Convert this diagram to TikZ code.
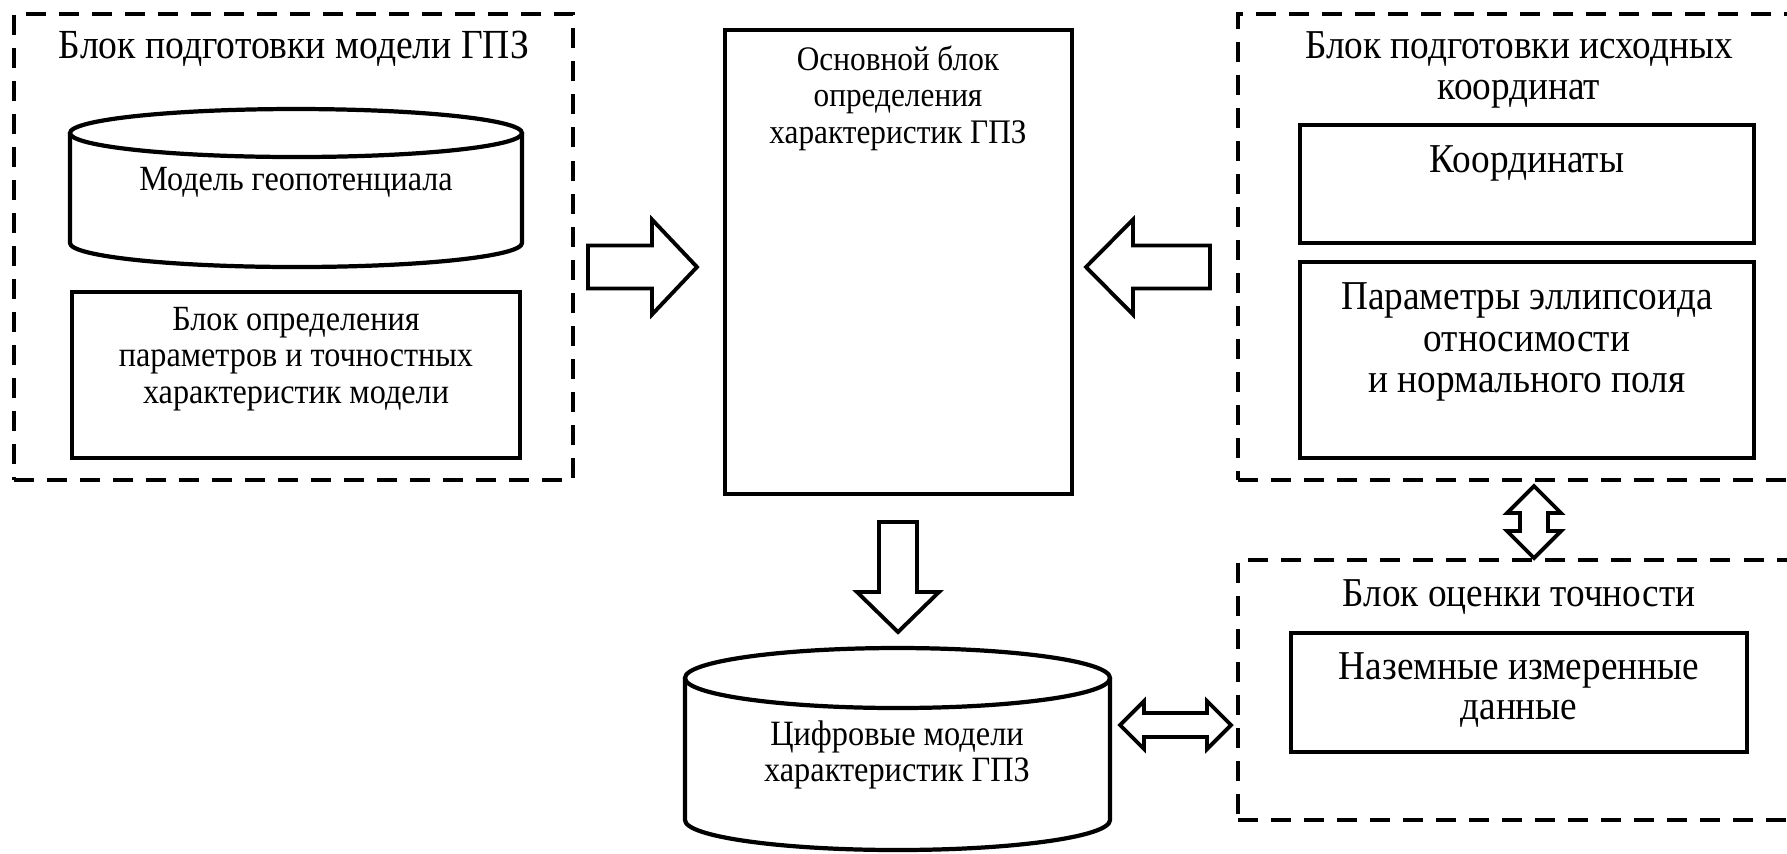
\documentclass[tikz,border=0pt]{standalone}
\usepackage{fontspec}
\setmainfont{Liberation Serif}
\usetikzlibrary{fit,calc}
\begin{document}
\begin{tikzpicture}[x=0.01cm, y=-0.01cm,
  every node/.style={inner sep=0pt, outer sep=0pt},
  solidbox/.style={draw, line width=1.2pt},
  dashbox/.style={draw, line width=1.15pt, dash pattern=on 0.2cm off 0.13cm},
  blockarrow/.style={draw, line width=1.1pt, line join=miter, fill=white},
  tall/.style={align=center, yscale=1.1},
  bigtxt/.style={tall, font=\fontsize{10.6}{10.4}\selectfont},
  midtxt/.style={tall, font=\fontsize{9.15}{9.5}\selectfont},
  smalltxt/.style={tall, font=\fontsize{9}{9.4}\selectfont},
]
\useasboundingbox (0,0) rectangle (1787,853);
\clip (0,0) rectangle (1787,853);

% ---- model preparation block
\node[dashbox, fit={(14,14)(573,480)}] (prep) {};
\node[bigtxt, font=\fontsize{10.7}{10.4}\selectfont] (prepT) at (294,49) {Блок подготовки модели ГПЗ};
\draw[solidbox] (70,133) -- (70,243) arc[start angle=180, end angle=0, x radius=226, y radius=24] -- (522,133);
\draw[solidbox] (296,133) ellipse[x radius=226, y radius=24];
\node[midtxt] (geo) at (296,182) {Модель геопотенциала};
\node[solidbox, fit={(72,292)(520,458)}] (param) {};
\node[midtxt] (paramT) at (296,359) {Блок определения\\параметров и точностных\\характеристик модели};

% ---- main block
\node[solidbox, fit={(725,30)(1072,494)}] (main) {};
\node[smalltxt, font=\fontsize{8.9}{9.4}\selectfont] (mainT) at (898,98) {Основной блок\\определения\\характеристик ГПЗ};

% ---- source coordinates block
\node[dashbox, fit={(1238,14)(1800,480)}] (coordprep) {};
\node[bigtxt] (coordprepT) at (1519,70) {Блок подготовки исходных\\координат};
\node[solidbox, fit={(1300,125)(1754,243)}] (coords) {};
\node[bigtxt] (coordsT) at (1527,163) {Координаты};
\node[solidbox, fit={(1300,262)(1754,458)}] (ellip) {};
\node[bigtxt, font=\fontsize{10.6}{10.8}\selectfont] (ellipT) at (1527,342) {Параметры эллипсоида\\относимости\\и нормального поля};

% ---- accuracy block
\node[dashbox, fit={(1238,560)(1800,820)}] (acc) {};
\node[bigtxt] (accT) at (1519,597) {Блок оценки точности};
\node[solidbox, fit={(1291,633)(1747,752)}] (ground) {};
\node[bigtxt] (groundT) at (1519,690) {Наземные измеренные\\данные};

% ---- digital models storage
\draw[solidbox] (685,678) -- (685,820) arc[start angle=180, end angle=0, x radius=212.5, y radius=30] -- (1110,678);
\draw[solidbox] (897.5,678) ellipse[x radius=212.5, y radius=30];
\node[smalltxt, font=\fontsize{9.2}{9.3}\selectfont] (digT) at (897,755) {Цифровые модели\\характеристик ГПЗ};

% ---- block arrows
\coordinate (a1s) at (588,267);
\coordinate (a1e) at (697,267);
\draw[blockarrow] (a1s) ++(0,-21.5) -- ++(64,0) -- ++(0,-26) -- (a1e) -- ++(-45,47.5) -- ++(0,-26) -- ++(-64,0) -- cycle;

\coordinate (a2s) at (1210,267);
\coordinate (a2e) at (1086,267);
\draw[blockarrow] (a2s) ++(0,-21.5) -- ++(-77,0) -- ++(0,-26) -- (a2e) -- ++(47,47.5) -- ++(0,-26) -- ++(77,0) -- cycle;

\coordinate (a3s) at (898,522);
\coordinate (a3e) at (898,632);
\draw[blockarrow] (a3s) ++(-19,0) -- ++(0,70) -- ++(-22,0) -- (a3e) -- ++(41,-40) -- ++(-22,0) -- ++(0,-70) -- cycle;

\coordinate (a4s) at (1120,725);
\coordinate (a4e) at (1231,725);
\draw[blockarrow] (a4s) -- ++(24,-24) -- ++(0,12) -- ++(63,0) -- ++(0,-12) -- (a4e) -- ++(-24,24) -- ++(0,-12) -- ++(-63,0) -- ++(0,12) -- cycle;

\coordinate (a5s) at (1534,486);
\coordinate (a5e) at (1534,558);
\draw[blockarrow] (a5s) -- ++(27,27) -- ++(-13,0) -- ++(0,18) -- ++(13,0) -- (a5e) -- ++(-27,-27) -- ++(13,0) -- ++(0,-18) -- ++(-13,0) -- cycle;
\end{tikzpicture}
\end{document}
